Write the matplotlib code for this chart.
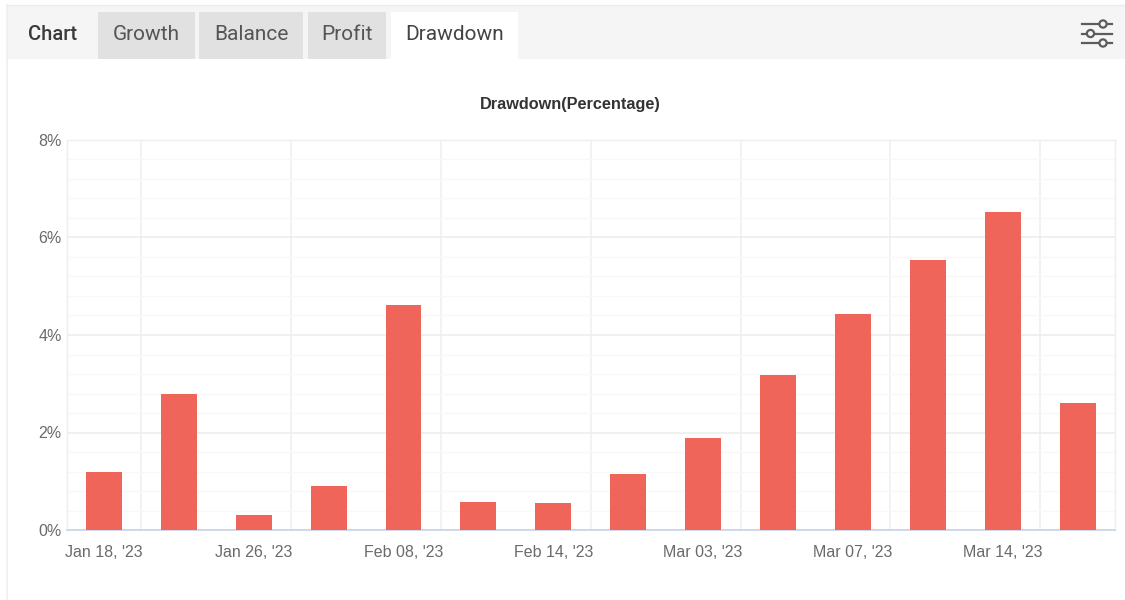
import numpy as np
import matplotlib
matplotlib.use('Agg')
import matplotlib.pyplot as plt
from matplotlib.patches import Rectangle, Circle

# 数据
drawdown = [1.2, 2.8, 0.3, 0.9, 4.62, 0.57, 0.55, 1.15, 1.88, 3.18, 4.43, 5.53, 6.53, 2.6]
date_labels = ["Jan 18, '23", "Jan 26, '23", "Feb 08, '23", "Feb 14, '23",
               "Mar 03, '23", "Mar 07, '23", "Mar 14, '23"]
y_major = [0, 2, 4, 6, 8]
y_minor = [0.4, 0.8, 1.2, 1.6, 2.4, 2.8, 3.2, 3.6, 4.4, 4.8, 5.2, 5.6, 6.4, 6.8, 7.2, 7.6]
tabs = ['Growth', 'Balance', 'Profit']
chart_title = 'Drawdown(Percentage)'

W, H = 1125, 600
fig = plt.figure(figsize=(W / 100, H / 100), dpi=100, facecolor='white')

# 页面外框和标签栏 (像素坐标)
bg = fig.add_axes([0, 0, 1, 1], zorder=0)
bg.set_xlim(0, W)
bg.set_ylim(H, 0)
bg.axis('off')
bg.add_patch(Rectangle((7, 5), W - 7, 54, fc='#f5f5f5', ec='none'))
bg.plot([7, W], [4.5, 4.5], color='#ececec', lw=1)
bg.plot([7, 7], [4.5, H], color='#efefef', lw=1.2)

bg.text(53, 34.5, 'Chart', ha='center', va='center', family='Roboto',
        fontsize=14.5, fontweight='medium', color='#3a3a3a')
tab_x = [(98, 195), (199, 303), (307.5, 386)]
for name, (x0, x1) in zip(tabs, tab_x):
    bg.add_patch(Rectangle((x0, 12), x1 - x0, 47, fc='#e1e1e1', ec='none'))
    bg.text((x0 + x1) / 2, 34.5, name, ha='center', va='center', family='Roboto',
            fontsize=15, color='#555555')
bg.add_patch(Rectangle((391, 12), 127, 47, fc='white', ec='none'))
bg.text(454.5, 34.5, 'Drawdown', ha='center', va='center', family='Roboto',
        fontsize=15, color='#444444')

# 右上角设置图标
for y, cx in [(24, 1103), (33.5, 1090.5), (43, 1103)]:
    bg.plot([1082, 1112], [y, y], color='#5c5c5c', lw=1.6, zorder=3)
    bg.add_patch(Circle((cx, y), 3.6, fc='#f5f5f5', ec='#5c5c5c', lw=1.6, zorder=4))

# 图表区域
ax = fig.add_axes([66.5 / W, 1 - 530 / H, (1115 - 66.5) / W, (530 - 140) / H], zorder=1)
ax.patch.set_alpha(0)
x = np.arange(len(drawdown))
ax.bar(x, drawdown, width=0.48, color='#f0655a', zorder=3)

ax.set_xlim(-0.5, len(drawdown) - 0.5)
ax.set_ylim(0, 8)

ax.set_yticks(y_major)
ax.set_yticklabels([f'{v}%' for v in y_major])
ax.set_yticks(y_minor, minor=True)
ax.set_xticks(x[::2])
ax.set_xticklabels(date_labels)
ax.set_xticks(x[1::2] - 0.5, minor=True)

ax.tick_params(axis='both', which='both', length=0)
ax.tick_params(axis='y', which='major', labelsize=11.5, labelcolor='#6a6a6a', pad=3.5)
ax.tick_params(axis='x', which='major', labelsize=11.5, labelcolor='#6a6a6a', pad=11)
for lab in ax.get_xticklabels() + ax.get_yticklabels():
    lab.set_family('Liberation Sans')

ax.grid(True, axis='y', which='major', color='#ececec', lw=1.1, zorder=0)
ax.grid(True, axis='y', which='minor', color='#f8f8f8', lw=1, zorder=0)
ax.grid(True, axis='x', which='minor', color='#f0f0f3', lw=1.2, zorder=0)
ax.grid(False, axis='x', which='major')

for side in ['top', 'left', 'right']:
    ax.spines[side].set_color('#eeeeee')
    ax.spines[side].set_linewidth(1)
ax.spines['bottom'].set_color('#ccd6eb')
ax.spines['bottom'].set_linewidth(1.3)

bg.text(570, 105, chart_title, ha='center', va='center', family='Liberation Sans',
        fontsize=11.7, fontweight='bold', color='#333333')

fig.savefig('out.png', dpi=100)
